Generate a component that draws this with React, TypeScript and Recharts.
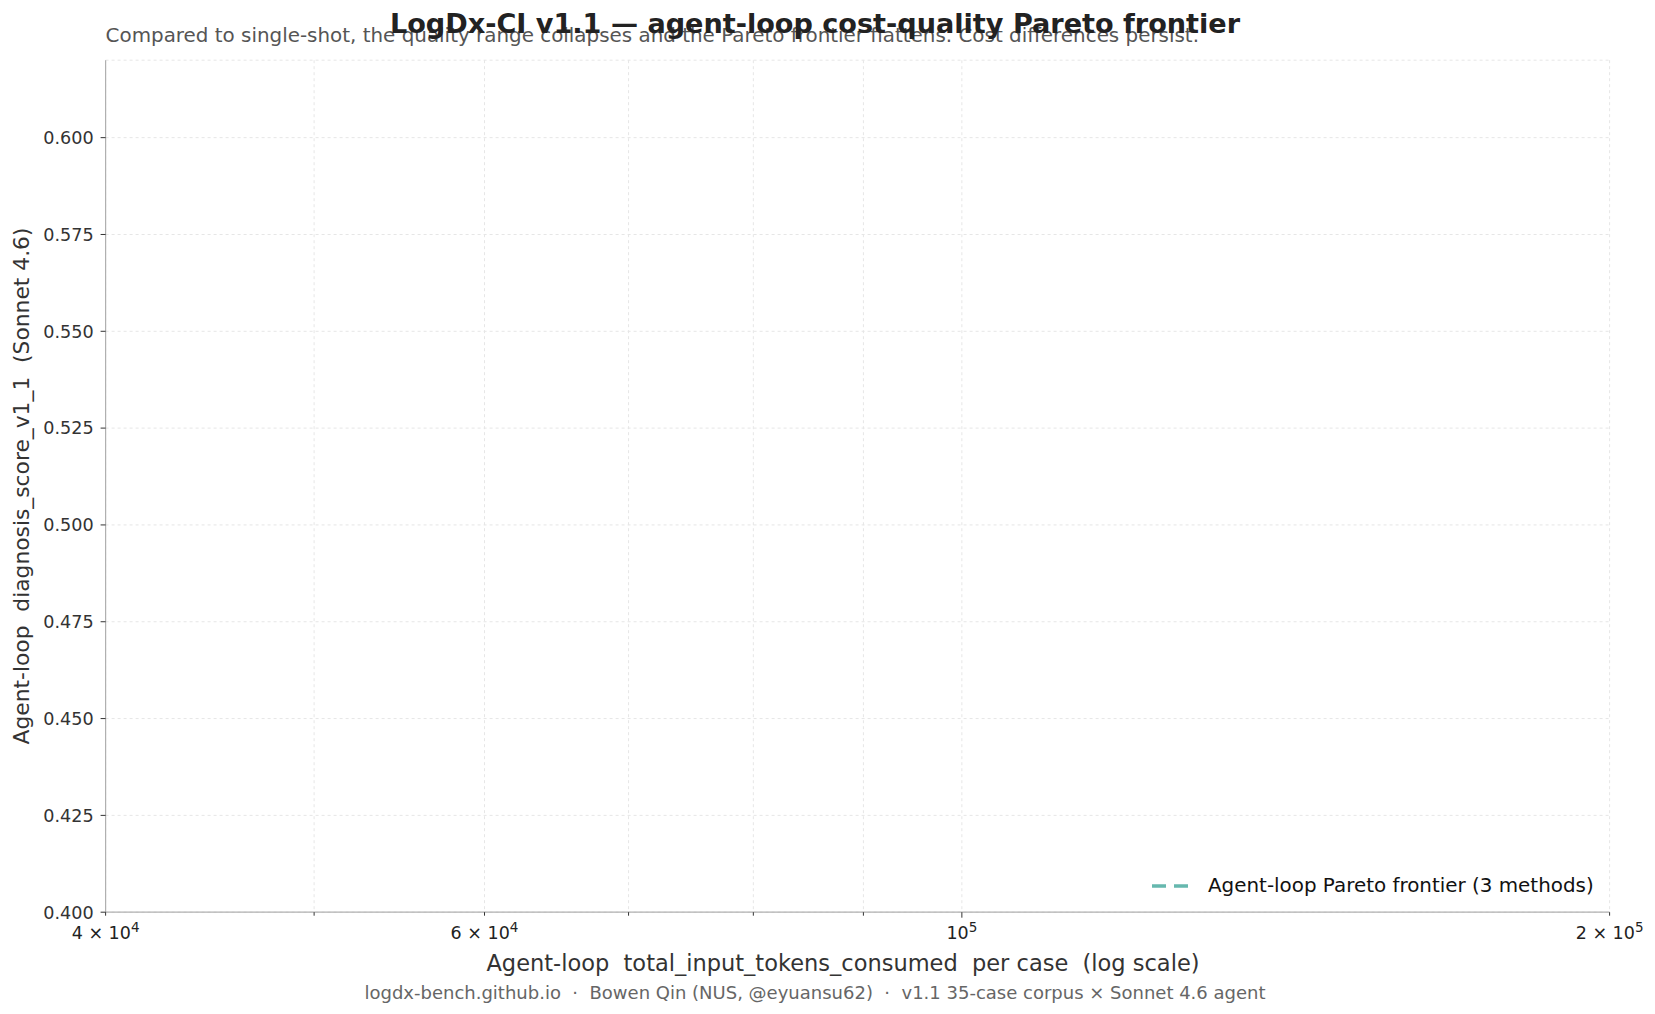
import React from "react";
import {
  LineChart,
  Line,
  XAxis,
  YAxis,
  CartesianGrid,
  Legend,
} from "recharts";

// agent-loop frontier: none of its points fall inside the plotted window
const frontier: { tokens: number; score: number }[] = [];

const xTicks = [40000, 50000, 60000, 70000, 80000, 90000, 100000, 200000];
const xMajor = [100000];
const xLabels: Record<number, [string, string]> = {
  40000: ["4 \u00d7 10", "4"],
  60000: ["6 \u00d7 10", "4"],
  100000: ["10", "5"],
  200000: ["2 \u00d7 10", "5"],
};
const yTicks = [0.4, 0.425, 0.45, 0.475, 0.5, 0.525, 0.55, 0.575, 0.6];

const FONT = "'DejaVu Sans', sans-serif";

function XTick(props: any) {
  const { x, y, payload } = props;
  const lab = xLabels[payload.value];
  const len = xMajor.includes(payload.value) ? 5.5 : 3.5;
  return (
    <g>
      <line x1={x} x2={x} y1={y} y2={y + len} stroke="#333" strokeWidth={1} />
      {lab && (
        <text x={x} y={y + 27} textAnchor="middle" fontSize={17.5} fill="#222" fontFamily={FONT}>
          {lab[0]}
          <tspan dy={-7} fontSize={13.5}>
            {lab[1]}
          </tspan>
        </text>
      )}
    </g>
  );
}

function YTick(props: any) {
  const { x, y, payload } = props;
  return (
    <g>
      <line x1={x - 5} x2={x} y1={y} y2={y} stroke="#333" strokeWidth={1} />
      <text x={x - 12} y={y + 6.3} textAnchor="end" fontSize={17.6} fill="#333" fontFamily={FONT}>
        {payload.value.toFixed(3)}
      </text>
    </g>
  );
}

function LegendBox(props: any) {
  const item = (props.payload || [])[0];
  if (!item) return null;
  return (
    <div style={{ display: "flex", alignItems: "center", fontFamily: FONT, fontSize: 19.9, color: "#111", whiteSpace: "nowrap" }}>
      <svg width={38} height={10} style={{ marginRight: 19 }}>
        <line x1={1} x2={37} y1={5} y2={5} stroke={item.color} strokeWidth={3.5} strokeDasharray="14 8" />
      </svg>
      {item.value}
    </div>
  );
}

export default function App() {
  return (
    <div style={{ position: "relative", width: 1647, height: 1006, fontFamily: FONT, background: "#fff" }}>
      <LineChart
        width={1647}
        height={1006}
        margin={{ top: 52.2, right: 45.4, bottom: 71.8, left: 0 }}
      >
        <CartesianGrid stroke="#e6e6e6" strokeDasharray="3 3" />
        <XAxis
          type="number"
          dataKey="tokens"
          scale="log"
          domain={[40000, 200000]}
          ticks={xTicks}
          allowDataOverflow
          interval={0}
          tick={<XTick />}
          tickLine={false}
          tickSize={0}
          tickMargin={0}
          height={30}
          axisLine={{ stroke: "#b0b0b0", strokeWidth: 1.2 }}
        />
        <YAxis
          type="number"
          dataKey="score"
          domain={[0.4, 0.62]}
          ticks={yTicks}
          allowDataOverflow
          interval={0}
          tick={<YTick />}
          tickLine={false}
          tickSize={0}
          tickMargin={0}
          width={97.6}
          axisLine={{ stroke: "#b0b0b0", strokeWidth: 1.2 }}
        />
        <Legend
          layout="horizontal"
          verticalAlign="middle"
          align="center"
          content={<LegendBox />}
          wrapperStyle={{ position: "absolute", left: 1143, top: 866, width: "auto" }}
        />
        <Line
          data={frontier}
          dataKey="score"
          name="Agent-loop Pareto frontier (3 methods)"
          stroke="#66b8ae"
          strokeWidth={2.5}
          strokeDasharray="10 5"
          dot={false}
          isAnimationActive={false}
        />
      </LineChart>
      <div style={{ position: "absolute", left: 97.6, top: 15.5, fontSize: 19.9, color: "#555", whiteSpace: "nowrap" }}>
        Compared to single-shot, the quality range collapses and the Pareto frontier flattens. Cost differences persist.
      </div>
      <div
        style={{
          position: "absolute",
          left: 807,
          top: 0,
          transform: "translateX(-50%)",
          fontSize: 27.1,
          fontWeight: "bold",
          color: "#222",
          whiteSpace: "nowrap",
        }}
      >
        LogDx-CI v1.1 — agent-loop cost-quality Pareto frontier
      </div>
      <div
        style={{
          position: "absolute",
          left: 13,
          top: 478,
          transform: "translate(-50%, -50%) rotate(-90deg)",
          fontSize: 21.8,
          color: "#333",
          whiteSpace: "pre",
        }}
      >
        {"Agent-loop  diagnosis_score_v1_1  (Sonnet 4.6)"}
      </div>
      <div
        style={{
          position: "absolute",
          left: 835,
          top: 942,
          transform: "translateX(-50%)",
          fontSize: 22.5,
          color: "#333",
          whiteSpace: "pre",
        }}
      >
        {"Agent-loop  total_input_tokens_consumed  per case  (log scale)"}
      </div>
      <div
        style={{
          position: "absolute",
          left: 807,
          top: 974,
          transform: "translateX(-50%)",
          fontSize: 18,
          color: "#666",
          whiteSpace: "pre",
        }}
      >
        {"logdx-bench.github.io  \u00b7  Bowen Qin (NUS, @eyuansu62)  \u00b7  v1.1 35-case corpus \u00d7 Sonnet 4.6 agent"}
      </div>
    </div>
  );
}
